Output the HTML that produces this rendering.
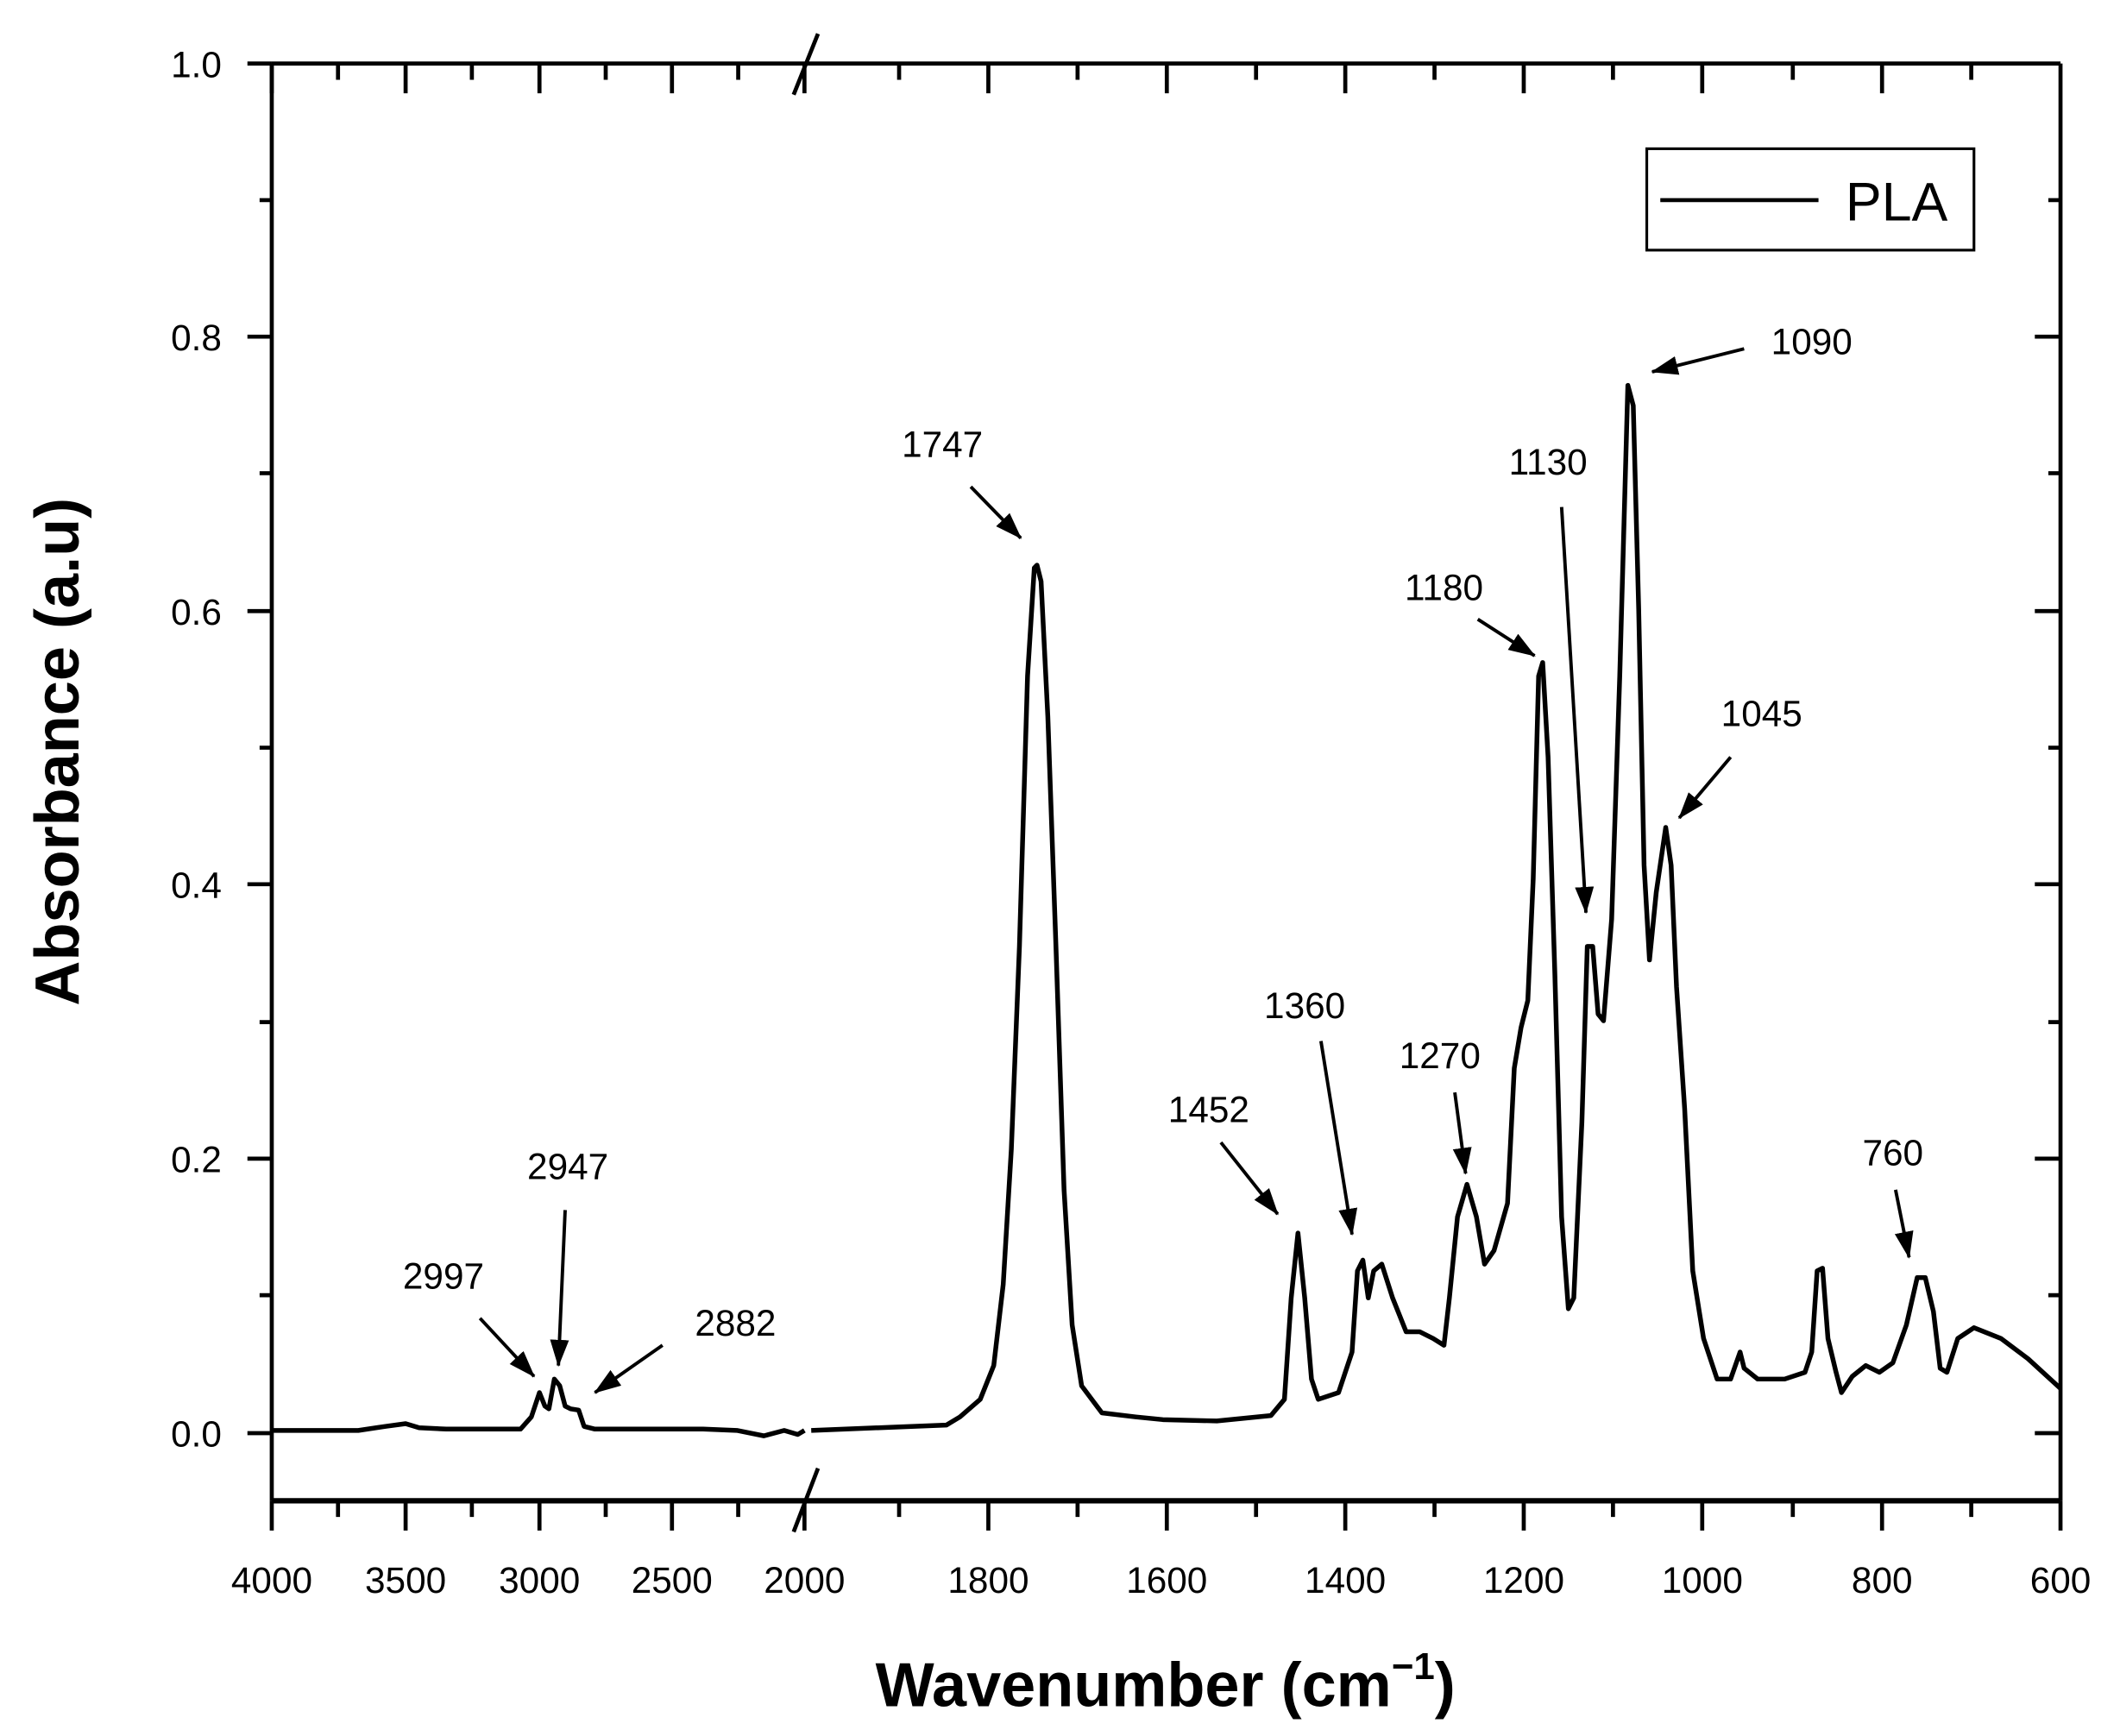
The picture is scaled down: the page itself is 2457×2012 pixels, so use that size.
<!DOCTYPE html>
<html><head><meta charset="utf-8"><style>
html,body{margin:0;padding:0;background:#fff}
svg{display:block}
text{font-family:"Liberation Sans",Arial,sans-serif;fill:#000}
</style></head><body>
<svg width="2457" height="2012" viewBox="0 0 1568 1284" xmlns="http://www.w3.org/2000/svg">
<defs><marker id="ah" markerWidth="8" markerHeight="8" refX="7" refY="4" orient="auto" markerUnits="userSpaceOnUse" viewBox="0 0 8 8"><path d="M0,0 L8,4 L0,8 z" fill="#000"/></marker>
<marker id="a2" markerWidth="20" markerHeight="16" refX="19" refY="8" orient="auto" markerUnits="userSpaceOnUse"><path d="M0,1 L20,8 L0,15 z" fill="#000"/></marker></defs>
<rect width="1568" height="1284" fill="#fff"/>
<!-- frame -->
<g stroke="#000" stroke-width="3" fill="none">
<line x1="201" y1="47" x2="1524" y2="47"/>
<line x1="201" y1="1110" x2="1524" y2="1110" stroke-width="4"/>
<line x1="201" y1="47" x2="201" y2="1110"/>
<line x1="1524" y1="47" x2="1524" y2="1110"/>
<!-- bottom ticks -->
<path d="M201 1110v22M300 1110v22M399 1110v22M497 1110v22M595 1110v22M731 1110v22M863 1110v22M995 1110v22M1127 1110v22M1259 1110v22M1392 1110v22M1524 1110v22
M250 1110v12M349 1110v12M448 1110v12M546 1110v12M665 1110v12M797 1110v12M929 1110v12M1061 1110v12M1193 1110v12M1326 1110v12M1458 1110v12"/>
<path d="M201 47v22M300 47v22M399 47v22M497 47v22M595 47v22M731 47v22M863 47v22M995 47v22M1127 47v22M1259 47v22M1392 47v22
M250 47v12M349 47v12M448 47v12M546 47v12M665 47v12M797 47v12M929 47v12M1061 47v12M1193 47v12M1326 47v12M1458 47v12"/>
<path d="M183 1060h18M183 857h18M183 654h18M183 452h18M183 249h18M183 47h18M192 958h9M192 756h9M192 553h9M192 350h9M192 148h9"/>
<path d="M1505 1060h19M1505 857h19M1505 654h19M1505 452h19M1505 249h19M1515 958h9M1515 756h9M1515 553h9M1515 350h9M1515 148h9"/>
<line x1="587" y1="70" x2="605" y2="25"/>
<line x1="587" y1="1133" x2="605" y2="1086"/>
</g>
<!-- tick labels -->
<g font-size="27" text-anchor="middle">
<text x="201" y="1178">4000</text><text x="300" y="1178">3500</text><text x="399" y="1178">3000</text><text x="497" y="1178">2500</text><text x="595" y="1178">2000</text>
<text x="731" y="1178">1800</text><text x="863" y="1178">1600</text><text x="995" y="1178">1400</text><text x="1127" y="1178">1200</text><text x="1259" y="1178">1000</text><text x="1392" y="1178">800</text><text x="1524" y="1178">600</text>
</g>
<g font-size="27" text-anchor="end">
<text x="164" y="1070">0.0</text><text x="164" y="867">0.2</text><text x="164" y="664">0.4</text><text x="164" y="462">0.6</text><text x="164" y="259">0.8</text><text x="164" y="57">1.0</text>
</g>
<text x="862" y="1262" font-size="46" font-weight="bold" text-anchor="middle">Wavenumber (cm<tspan dy="-20" font-size="28">−1</tspan><tspan dy="20">)</tspan></text>
<text transform="translate(58,556) rotate(-90)" font-size="46" font-weight="bold" text-anchor="middle">Absorbance (a.u)</text>
<!-- legend -->
<rect x="1218" y="110" width="242" height="75" fill="none" stroke="#000" stroke-width="2"/>
<line x1="1228" y1="148" x2="1345" y2="148" stroke="#000" stroke-width="3"/>
<text x="1365" y="163" font-size="40">PLA</text>
<!-- spectrum -->
<polyline fill="none" stroke="#000" stroke-width="3.5" stroke-linejoin="round" points="201,1058 265,1058 285,1055 300,1053 310,1056 330,1057 385,1057 393,1048 399,1030 403,1040 406,1042 410,1020 414,1025 418,1040 422,1042 428,1043 432,1055 440,1057 520,1057 545,1058 565,1062 580,1058 590,1061 595,1058"/>
<polyline fill="none" stroke="#000" stroke-width="3.5" stroke-linejoin="round" points="600,1058 700,1054 710,1048 725,1035 735,1010 742,950 748,850 754,700 760,500 765,420 767,418 770,430 775,530 781,700 787,880 793,980 800,1025 815,1045 840,1048 860,1050 900,1051 940,1047 950,1035 955,960 960,912 965,960 970,1020 975,1035 990,1030 1000,1000 1004,940 1008,932 1012,960 1016,940 1022,935 1030,960 1040,985 1050,985 1060,990 1068,995 1072,960 1078,900 1085,876 1092,900 1098,935 1105,925 1115,890 1120,790 1125,760 1130,740 1134,650 1138,500 1141,490 1145,560 1150,720 1155,900 1160,968 1164,960 1170,830 1174,700 1178,700 1182,750 1186,755 1192,680 1198,500 1204,285 1208,300 1212,450 1216,640 1220,710 1225,660 1232,612 1236,640 1240,730 1246,820 1252,940 1260,990 1270,1020 1280,1020 1287,1000 1290,1012 1300,1020 1320,1020 1335,1015 1340,1000 1344,940 1348,938 1352,990 1358,1015 1362,1030 1370,1018 1380,1010 1390,1015 1400,1008 1410,980 1418,945 1424,945 1430,970 1435,1012 1440,1015 1448,990 1460,982 1480,990 1500,1005 1524,1027"/>
<!-- annotations -->
<g stroke="#000" stroke-width="2.5" marker-end="url(#a2)">
<line x1="355" y1="975" x2="395" y2="1018"/>
<line x1="418" y1="895" x2="413" y2="1010"/>
<line x1="490" y1="995" x2="440" y2="1030"/>
<line x1="718" y1="360" x2="755" y2="398"/>
<line x1="903" y1="845" x2="945" y2="898"/>
<line x1="977" y1="770" x2="1000" y2="913"/>
<line x1="1076" y1="808" x2="1084" y2="868"/>
<line x1="1093" y1="458" x2="1135" y2="485"/>
<line x1="1155" y1="375" x2="1173" y2="675"/>
<line x1="1290" y1="258" x2="1222" y2="275"/>
<line x1="1280" y1="560" x2="1242" y2="605"/>
<line x1="1402" y1="880" x2="1412" y2="930"/>
</g>
<g font-size="27" text-anchor="middle">
<text x="328" y="953">2997</text><text x="420" y="872">2947</text><text x="544" y="988">2882</text>
<text x="697" y="338">1747</text><text x="894" y="830">1452</text><text x="965" y="753">1360</text>
<text x="1065" y="790">1270</text><text x="1068" y="444">1180</text><text x="1145" y="351">1130</text>
<text x="1340" y="262">1090</text><text x="1303" y="537">1045</text><text x="1400" y="862">760</text>
</g>
</svg>
</body></html>
